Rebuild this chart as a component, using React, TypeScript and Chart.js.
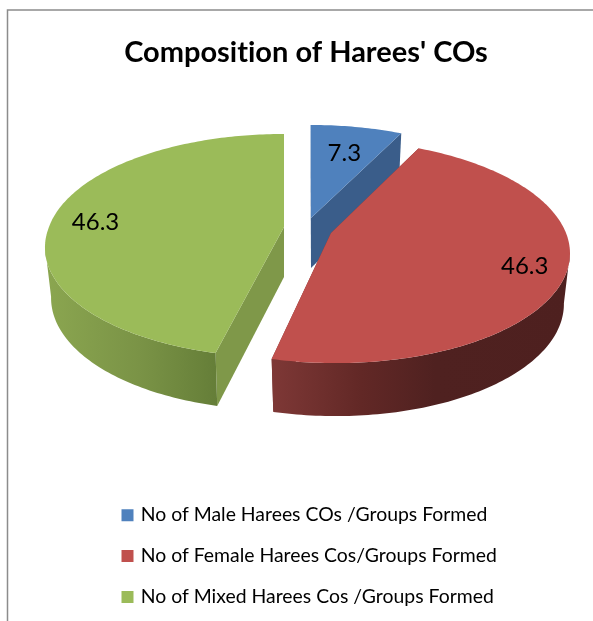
import React, { useEffect, useRef } from "react";
import { Chart, registerables } from "chart.js";

Chart.register(...registerables);

const titleText = "Composition of Harees' COs";
const categories = [
  "No of Male Harees COs /Groups Formed",
  "No of Female Harees Cos/Groups Formed",
  "No of Mixed Harees Cos /Groups Formed",
];
const seriesValues = [7.3, 46.3, 46.3];
const sliceColors = ["#4F81BD", "#C0504D", "#9BBB59"];
const cutColors = ["#3A5D8A", "#7A3533", "#7F9849"];
const wallStops: [number, string][][] = [
  [[0, "#3A5D8A"], [1, "#3A5D8A"]],
  [[0, "#7E3836"], [0.3, "#622826"], [0.55, "#4F2120"], [1, "#4E201F"]],
  [[0, "#8BA650"], [0.55, "#7A9346"], [1, "#657E38"]],
];

const FONT = "Lato, Carlito, Calibri, sans-serif";
const CENTER = { x: 308, y: 229 };
const SHIFT = [[3, -11], [23, 4], [-24, -2]];
const LABEL_RHO = [0.7, 0.83, 0.82];
const LABEL_DY = [2, 1, 5];
const TOP_PLANE = { a: 235, b: 108.5, p: 0.166, d: 0 };
const BOTTOM_PLANE = { a: 229, b: 111, p: 0.166, d: 50 };
const DRAW_ORDER = [0, 2, 1];

type Plane = typeof TOP_PLANE;

function project(i: number, angle: number, rho: number, plane: Plane) {
  const u = Math.cos(angle) * rho;
  const v = Math.sin(angle) * rho;
  const s = 1 / (1 - plane.p * v);
  const shiftScale = v > 0 || SHIFT[i][0] > 0 ? s : 1;
  return {
    x: CENTER.x + SHIFT[i][0] * shiftScale + plane.a * u * s,
    y: CENTER.y + SHIFT[i][1] + plane.d + plane.b * v * s,
  };
}

function samples(start: number, end: number) {
  const out: number[] = [];
  const n = Math.max(2, Math.ceil(((end - start) * 180) / Math.PI));
  for (let k = 0; k <= n; k++) out.push(start + ((end - start) * k) / n);
  return out;
}

function poly(ctx: CanvasRenderingContext2D, pts: { x: number; y: number }[], fill: string | CanvasGradient) {
  ctx.beginPath();
  pts.forEach((q, k) => (k ? ctx.lineTo(q.x, q.y) : ctx.moveTo(q.x, q.y)));
  ctx.closePath();
  ctx.fillStyle = fill;
  ctx.fill();
}

const piePlugin = {
  id: "tiltedPie",
  afterLayout(chart: any) {
    const legend = chart.legend;
    legend.left = 102.5;
    legend.right = 593;
    legend.top = 484;
    legend.bottom = 640;
  },
  beforeDraw(chart: any) {
    const ctx = chart.ctx as any;
    ctx.textRendering = "optimizeSpeed";
    ctx.save();
    ctx.strokeStyle = "#8C8C8C";
    ctx.lineWidth = 1.5;
    ctx.beginPath();
    ctx.moveTo(7.5, 621);
    ctx.lineTo(7.5, 10);
    ctx.lineTo(593, 10);
    ctx.stroke();
    ctx.restore();
  },
  beforeDatasetDraw(chart: any) {
    const ctx = chart.ctx as CanvasRenderingContext2D;
    const arcs = chart.getDatasetMeta(0).data;
    ctx.save();
    for (const i of DRAW_ORDER) {
      const { startAngle, endAngle } = arcs[i];
      const apexTop = project(i, 0, 0, TOP_PLANE);
      const apexBottom = project(i, 0, 0, BOTTOM_PLANE);
      for (const edge of [startAngle, endAngle]) {
        poly(ctx, [apexTop, project(i, edge, 1, TOP_PLANE), project(i, edge, 1, BOTTOM_PLANE), apexBottom], cutColors[i]);
      }
      const front = samples(startAngle, endAngle).filter((a) => Math.sin(a) >= TOP_PLANE.p);
      if (front.length > 1) {
        const upper = front.map((a) => project(i, a, 1, TOP_PLANE));
        const lower = front.map((a) => project(i, a, 1, BOTTOM_PLANE)).reverse();
        const xs = upper.concat(lower).map((q) => q.x);
        const g = ctx.createLinearGradient(Math.min(...xs), 0, Math.max(...xs), 0);
        wallStops[i].forEach(([o, c]) => g.addColorStop(o, c));
        poly(ctx, upper.concat(lower), g);
      }
      poly(ctx, [apexTop, ...samples(startAngle, endAngle).map((a) => project(i, a, 1, TOP_PLANE))], sliceColors[i]);
    }
    ctx.fillStyle = "#000000";
    ctx.font = `24px ${FONT}`;
    ctx.textAlign = "center";
    ctx.textBaseline = "middle";
    seriesValues.forEach((value, i) => {
      const mid = (arcs[i].startAngle + arcs[i].endAngle) / 2;
      const q = project(i, mid, LABEL_RHO[i], TOP_PLANE);
      ctx.fillText(String(value), q.x, q.y + LABEL_DY[i]);
    });
    ctx.restore();
    return false;
  },
};

export default function App() {
  const ref = useRef<HTMLCanvasElement>(null);
  useEffect(() => {
    const chart = new Chart(ref.current!, {
      type: "pie",
      data: {
        labels: categories,
        datasets: [{ data: seriesValues, backgroundColor: sliceColors, borderWidth: 0 }],
      },
      options: {
        responsive: false,
        animation: false,
        events: [],
        layout: { padding: { left: 19, bottom: 100 } },
        plugins: {
          title: {
            display: true,
            text: titleText,
            color: "#000000",
            font: { family: FONT, size: 29, weight: "bold" },
            padding: { top: 35, bottom: 10 },
          },
          legend: {
            position: "bottom",
            align: "start",
            labels: {
              boxWidth: 7,
              boxHeight: 7,
              color: "#000000",
              padding: 21.5,
              font: { family: FONT, size: 19.4 },
              generateLabels: (c: any) =>
                (Chart as any).overrides.doughnut.plugins.legend.labels
                  .generateLabels(c)
                  .map((item: any, i: number) => ({ ...item, strokeStyle: sliceColors[i], lineWidth: 5 })),
            },
          },
          tooltip: { enabled: false },
        },
      },
      plugins: [piePlugin],
    } as any);
    return () => chart.destroy();
  }, []);
  return (
    <div style={{ position: "absolute", left: 0, top: 0, width: 593, height: 621, background: "#FFFFFF" }}>
      <canvas ref={ref} width={593} height={621} style={{ display: "block" }} />
    </div>
  );
}
